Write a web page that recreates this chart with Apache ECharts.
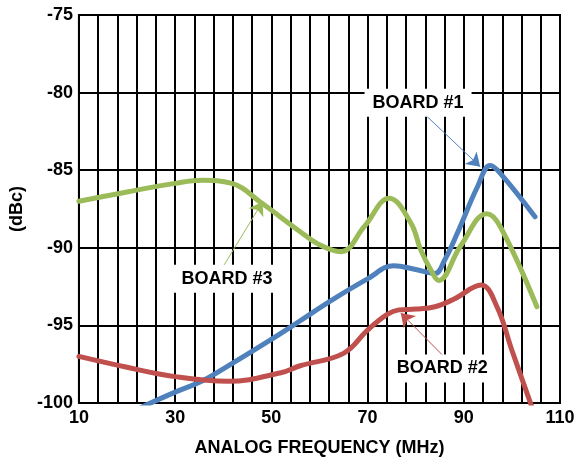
<!DOCTYPE html>
<html>
<head>
<meta charset="utf-8">
<script src="https://cdn.jsdelivr.net/npm/echarts@6/dist/echarts.min.js"></script>
<style>
html,body{margin:0;padding:0;background:#fff;}
#c{width:578px;height:466px;}
</style>
</head>
<body>
<div id="c"></div>
<script>
// Axis ticks
var xTicks = [10, 30, 50, 70, 90, 110];
var yTicks = [-100, -95, -90, -85, -80, -75];

// BOARD #1 (blue)
var board1X = [22.8, 30, 35.5, 40, 50, 56, 62.4, 70, 75.5, 80, 84, 86, 88.6, 92.8, 95.5, 97.6, 104.8];
var board1Y = [-100.3, -99.3, -98.6, -97.8, -95.9, -94.7, -93.4, -92.0, -91.15, -91.4, -91.65, -90.8, -89.1, -86.1, -84.7, -85.2, -88.0];

// BOARD #2 (red)
var board2X = [10, 20, 30, 41, 52, 56, 65, 70, 74, 76.5, 80, 84, 88, 93.6, 96.9, 100, 104.2];
var board2Y = [-97.0, -97.7, -98.3, -98.6, -98.05, -97.6, -96.8, -95.3, -94.3, -94.0, -93.95, -93.8, -93.3, -92.4, -93.8, -96.6, -100.3];

// BOARD #3 (green)
var board3X = [10, 20, 30, 35.5, 41.8, 47.9, 55.5, 60, 64.5, 69.3, 74.5, 79, 81, 83.1, 84.8, 89.3, 94.8, 97.6, 105.2];
var board3Y = [-87.0, -86.4, -85.85, -85.65, -85.85, -87.1, -88.85, -89.8, -90.25, -88.64, -86.8, -88.4, -90.1, -91.4, -92.1, -89.9, -87.8, -88.64, -93.8];

// Annotations: label position and arrow [start, tip] in data units
var labels = ['BOARD #1', 'BOARD #2', 'BOARD #3'];
var labelPos = [[80.5, -80.65], [85.5, -97.77], [40.8, -92.0]];
var arrows = [
  [[82.4, -81.55], [93.4, -84.77]],
  [[85.85, -97.0], [76.9, -94.2]],
  [[40.0, -91.2], [48.2, -87.03]]
];

var colors = ['#4F81BD', '#C0504D', '#9BBB59'];
var FONT = "'Liberation Sans', Arial, sans-serif";

function pairs(xs, ys) {
  var out = [];
  for (var i = 0; i < xs.length; i++) out.push([xs[i], ys[i]]);
  return out;
}

function makeSeries(idx, xs, ys) {
  return {
    type: 'line',
    name: labels[idx],
    data: pairs(xs, ys),
    smooth: 0.4,
    showSymbol: false,
    symbol: 'none',
    lineStyle: { color: colors[idx], width: 5, cap: 'round', join: 'round' },
    itemStyle: { color: colors[idx] },
    markLine: {
      silent: true,
      symbol: ['none', 'arrow'],
      symbolSize: 13,
      label: { show: false },
      itemStyle: { color: colors[idx] },
      lineStyle: { color: colors[idx], width: 1, type: 'solid' },
      data: [[{ coord: arrows[idx][0] }, { coord: arrows[idx][1] }]]
    },
    markPoint: {
      silent: true,
      symbol: 'rect',
      symbolSize: 0,
      data: [{ coord: labelPos[idx], value: labels[idx] }],
      label: {
        show: true,
        position: 'inside',
        formatter: labels[idx],
        color: '#000',
        fontFamily: FONT,
        fontWeight: 'bold',
        fontSize: 18,
        backgroundColor: '#fff',
        padding: [5, 8]
      }
    }
  };
}

var chart = echarts.init(document.getElementById('c'), null, { renderer: 'canvas' });
chart.setOption({
  animation: false,
  backgroundColor: '#fff',
  grid: { left: 77, right: 18, top: 15, bottom: 63, show: true, borderColor: '#000', borderWidth: 2 },
  xAxis: {
    type: 'value',
    min: xTicks[0],
    max: xTicks[xTicks.length - 1],
    interval: xTicks[1] - xTicks[0],
    name: 'ANALOG FREQUENCY (MHz)',
    nameLocation: 'middle',
    nameGap: 36,
    nameTextStyle: { fontFamily: FONT, fontWeight: 'bold', fontSize: 18, color: '#000' },
    axisLine: { lineStyle: { color: '#000', width: 2 } },
    axisTick: { show: false },
    minorTick: { show: false, splitNumber: 5 },
    axisLabel: { fontFamily: FONT, fontWeight: 'bold', fontSize: 18, color: '#000', margin: 6,
      formatter: function (v) { return xTicks.indexOf(v) >= 0 ? String(v) : ''; } },
    splitLine: { show: true, lineStyle: { color: '#000', width: 2 } },
    minorSplitLine: { show: true, lineStyle: { color: '#000', width: 2 } }
  },
  yAxis: {
    type: 'value',
    min: yTicks[0],
    max: yTicks[yTicks.length - 1],
    interval: yTicks[1] - yTicks[0],
    name: '(dBc)',
    nameLocation: 'middle',
    nameGap: 48,
    nameTextStyle: { fontFamily: FONT, fontWeight: 'bold', fontSize: 18, color: '#000' },
    axisLine: { show: true, lineStyle: { color: '#000', width: 2 } },
    axisTick: { show: false },
    axisLabel: { fontFamily: FONT, fontWeight: 'bold', fontSize: 18, color: '#000', margin: 6 },
    splitLine: { show: true, lineStyle: { color: '#000', width: 2 } }
  },
  series: [
    makeSeries(0, board1X, board1Y),
    makeSeries(1, board2X, board2Y),
    makeSeries(2, board3X, board3Y)
  ]
});
</script>
</body>
</html>
